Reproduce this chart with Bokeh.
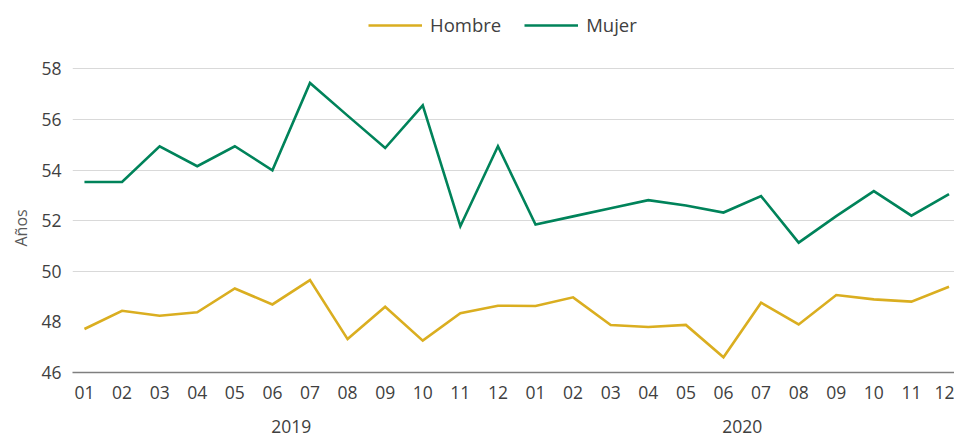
from bokeh.plotting import figure
from bokeh.models import (Range1d, LinearAxis, FixedTicker, Legend, LegendItem, Title)
from bokeh.embed import file_html
from bokeh.resources import INLINE

# ---- data ----
months = ["01", "02", "03", "04", "05", "06", "07", "08", "09", "10", "11", "12"] * 2
years = ["2019", "2020"]
hombre = [47.72, 48.44, 48.24, 48.38, 49.32, 48.69, 49.65, 47.32, 48.60, 47.26, 48.34, 48.64,
          48.63, 48.97, 47.88, 47.80, 47.88, 46.60, 48.76, 47.90, 49.06, 48.89, 48.80, 49.39]
mujer = [53.53, 53.53, 54.94, 54.15, 54.94, 53.99, 57.44, 56.15, 54.87, 56.56, 51.78, 54.94,
         51.85, 52.17, 52.49, 52.81, 52.60, 52.32, 52.97, 51.13, 52.18, 53.17, 52.20, 53.05]
y_ticks = [46, 48, 50, 52, 54, 56, 58]
grid_ticks = [50, 52, 54, 56, 58]
series_names = ["Hombre", "Mujer"]
y_title = "Años"
colors = ["#DAAE20", "#00835A"]

FONT = "Open Sans"
TXT = "#404040"
TICK_SIZE = "17.5px"

x = [int(i) for i in range(len(months))]

p = figure(width=954, height=436, output_backend="svg", toolbar_location=None,
           x_range=Range1d(-0.318, 23.146), y_range=Range1d(46, 60.70),
           min_border_left=68, min_border_right=0, min_border_top=0, min_border_bottom=64)
p.outline_line_color = None
p.xaxis.visible = False
p.xgrid.grid_line_color = None

r1 = p.line(x, hombre, line_color=colors[0], line_width=2.6, line_join="miter")
r2 = p.line(x, mujer, line_color=colors[1], line_width=2.6, line_join="miter")

# y axis
yax = p.yaxis[0]
yax.ticker = FixedTicker(ticks=y_ticks)
yax.axis_line_color = None
yax.major_tick_line_color = None
yax.minor_tick_line_color = None
yax.major_tick_out = 0
yax.major_tick_in = 0
yax.major_label_text_font = FONT
yax.major_label_text_font_size = TICK_SIZE
yax.major_label_text_color = TXT
yax.major_label_standoff = 11

ytitle = Title(text=y_title, align="left", offset=126, standoff=14,
               text_font=FONT, text_font_style="normal", text_font_size="16px",
               text_color="#595959")
p.add_layout(ytitle, "left")

p.ygrid.ticker = FixedTicker(ticks=grid_ticks)
p.ygrid.grid_line_color = "#d9d9d9"
p.ygrid.grid_line_width = 1

# month axis
mx = LinearAxis(ticker=FixedTicker(ticks=x),
                major_label_overrides={i: m for i, m in zip(x, months)})
mx.axis_line_color = "#7f7f7f"
mx.axis_line_width = 1.5
mx.major_tick_line_color = None
mx.minor_tick_line_color = None
mx.major_tick_out = 0
mx.major_tick_in = 0
mx.major_label_text_font = FONT
mx.major_label_text_font_size = TICK_SIZE
mx.major_label_text_color = TXT
mx.major_label_standoff = 13
p.add_layout(mx, "below")

# year axis
year_pos = [float(sum(x[i * 12:(i + 1) * 12]) / 12) for i in range(len(years))]
yx = LinearAxis(ticker=FixedTicker(ticks=year_pos),
                major_label_overrides={pos: yr for pos, yr in zip(year_pos, years)})
yx.axis_line_color = None
yx.major_tick_line_color = None
yx.minor_tick_line_color = None
yx.major_tick_out = 0
yx.major_tick_in = 0
yx.major_label_text_font = FONT
yx.major_label_text_font_size = TICK_SIZE
yx.major_label_text_color = TXT
yx.major_label_standoff = 18
p.add_layout(yx, "below")

legend = Legend(items=[LegendItem(label=series_names[0], renderers=[r1]),
                       LegendItem(label=series_names[1], renderers=[r2])],
                orientation="horizontal", location=(296, 335),
                glyph_width=54, glyph_height=18, label_standoff=8, spacing=23,
                padding=0, margin=0,
                label_text_font=FONT, label_text_font_size="18.5px", label_text_color=TXT,
                border_line_alpha=0, background_fill_alpha=0)
p.add_layout(legend, "center")

open("out.html", "w").write(file_html(p, INLINE))
